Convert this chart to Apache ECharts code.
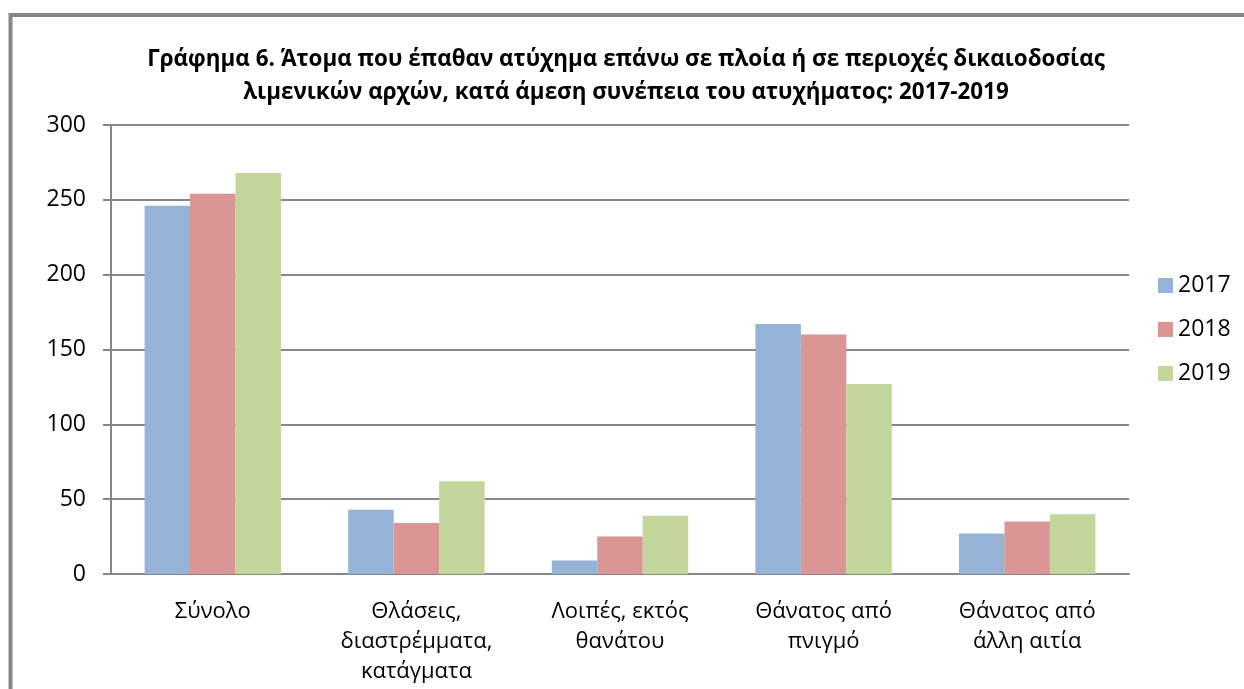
<!DOCTYPE html>
<html>
<head>
<meta charset="utf-8">
<script src="https://cdn.jsdelivr.net/npm/echarts@6/dist/echarts.min.js"></script>
<style>
  html, body { margin: 0; padding: 0; background: #fff; }
  #chart { width: 1244px; height: 689px; }
</style>
</head>
<body>
<div id="chart"></div>
<script>
var categories = ['Σύνολο', 'Θλάσεις,\nδιαστρέμματα,\nκατάγματα', 'Λοιπές, εκτός\nθανάτου', 'Θάνατος από\nπνιγμό', 'Θάνατος από\nάλλη αιτία'];
var years = ['2017', '2018', '2019'];
var values2017 = [246, 43, 9, 167, 27];
var values2018 = [254, 34, 25, 160, 35];
var values2019 = [268, 62, 39, 127, 40];
var colors = ['#95B3D7', '#D99694', '#C3D69B'];

var font = '"Open Sans", "Noto Sans", sans-serif';
var chart = echarts.init(document.getElementById('chart'));

var allValues = [values2017, values2018, values2019];
var series = years.map(function (y, i) {
    return {
        name: y,
        type: 'bar',
        data: allValues[i],
        barGap: '0%',
        barCategoryGap: '33%',
        itemStyle: { color: colors[i] },
        animation: false
    };
});

chart.setOption({
    animation: false,
    title: {
        text: 'Γράφημα 6. Άτομα που έπαθαν ατύχημα επάνω σε πλοία ή σε περιοχές δικαιοδοσίας\nλιμενικών αρχών, κατά άμεση συνέπεια του ατυχήματος: 2017-2019',
        left: 621,
        top: 38,
        textAlign: 'center',
        textStyle: { fontFamily: font, fontWeight: 'bold', fontSize: 22.4, lineHeight: 33, color: '#000' }
    },
    legend: {
        orient: 'vertical',
        left: 1153,
        top: 269,
        itemWidth: 15,
        itemHeight: 15,
        itemGap: 21,
        icon: 'rect',
        textStyle: { fontFamily: font, fontSize: 23, color: '#000' },
        data: years
    },
    grid: { left: 111, right: 115, top: 125, bottom: 115 },
    xAxis: {
        type: 'category',
        data: categories,
        axisLine: { lineStyle: { color: '#868686', width: 2 } },
        axisTick: { alignWithLabel: true, length: 6, lineStyle: { color: '#868686', width: 2 } },
        axisLabel: { fontFamily: font, fontSize: 22, color: '#000', margin: 23, lineHeight: 30, interval: 0 }
    },
    yAxis: {
        type: 'value',
        min: 0,
        max: 300,
        interval: 50,
        axisLine: { show: true, lineStyle: { color: '#868686', width: 2 } },
        axisTick: { show: true, length: 8, lineStyle: { color: '#868686', width: 2 } },
        axisLabel: { fontFamily: font, fontSize: 23, color: '#000', margin: 25 },
        splitLine: { lineStyle: { color: '#868686', width: 2 } }
    },
    graphic: [{
        type: 'rect',
        shape: { x: 10.5, y: 15, width: 1400, height: 900 },
        style: { fill: null, stroke: '#878787', lineWidth: 4 },
        silent: true
    }],
    series: series
});
</script>
</body>
</html>
